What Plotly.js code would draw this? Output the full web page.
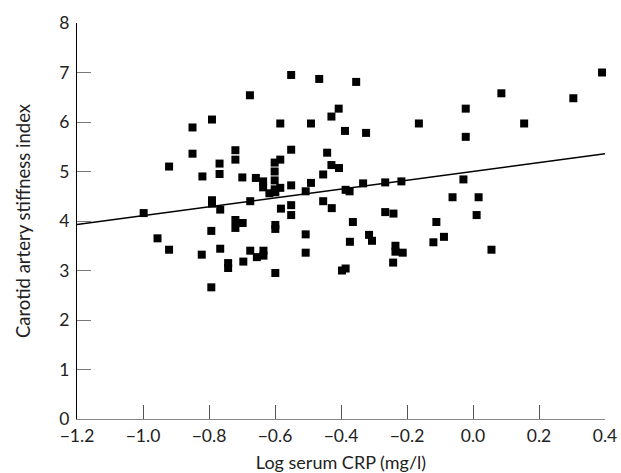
<!DOCTYPE html>
<html>
<head>
<meta charset="utf-8">
<script src="https://cdn.plot.ly/plotly-3.0.1.min.js"></script>
<style>html,body{margin:0;padding:0;background:#fff;}#chart{width:621px;height:473px;}</style>
</head>
<body>
<div id="chart"></div>
<script>
// Log serum CRP (mg/l)
var logCRP = [
  -0.998, -0.956, -0.921, -0.921, -0.850, -0.850, -0.822, -0.820, -0.791, -0.791,
  -0.791, -0.793, -0.793, -0.768, -0.768, -0.766, -0.766, -0.742, -0.742, -0.720,
  -0.720, -0.720, -0.720, -0.699, -0.698, -0.696, -0.676, -0.675, -0.675, -0.658,
  -0.655, -0.636, -0.636, -0.635, -0.635, -0.617, -0.601, -0.601, -0.601, -0.601,
  -0.599, -0.599, -0.599, -0.599, -0.584, -0.584, -0.584, -0.582, -0.551, -0.551,
  -0.551, -0.551, -0.551, -0.507, -0.507, -0.507, -0.491, -0.491, -0.466, -0.454,
  -0.454, -0.442, -0.429, -0.429, -0.428, -0.407, -0.406, -0.397, -0.388, -0.386,
  -0.386, -0.374, -0.373, -0.364, -0.354, -0.333, -0.324, -0.315, -0.306, -0.266,
  -0.266, -0.242, -0.241, -0.235, -0.235, -0.217, -0.213, -0.164, -0.120, -0.111,
  -0.088, -0.062, -0.029, -0.022, -0.022, 0.011, 0.017, 0.056, 0.086, 0.155,
  0.304, 0.391
];
// Carotid artery stiffness index
var stiffness = [
  4.16, 3.65, 3.42, 5.10, 5.89, 5.36, 3.32, 4.90, 6.05, 4.42,
  4.35, 3.80, 2.66, 5.16, 4.95, 4.23, 3.44, 3.15, 3.05, 5.43,
  5.24, 4.02, 3.86, 4.88, 3.96, 3.18, 6.54, 4.40, 3.40, 4.87,
  3.27, 4.80, 4.68, 3.40, 3.30, 4.56, 5.18, 5.00, 4.82, 4.64,
  4.58, 3.92, 3.84, 2.95, 5.97, 5.24, 4.67, 4.25, 6.95, 5.44,
  4.72, 4.32, 4.12, 4.60, 3.73, 3.36, 5.97, 4.77, 6.87, 4.94,
  4.40, 5.38, 6.11, 5.13, 4.26, 6.27, 5.07, 3.00, 5.82, 4.63,
  3.04, 4.60, 3.58, 3.98, 6.81, 4.76, 5.78, 3.72, 3.60, 4.78,
  4.18, 3.16, 4.15, 3.50, 3.38, 4.80, 3.36, 5.97, 3.57, 3.98,
  3.68, 4.48, 4.84, 6.27, 5.70, 4.12, 4.48, 3.42, 6.58, 5.97,
  6.48, 7.00
];
// Regression line end points
var fitX = [-1.2, 0.4];
var fitY = [3.93, 5.36];

var xTicks = [-1.2, -1.0, -0.8, -0.6, -0.4, -0.2, 0.0, 0.2, 0.4];
var xTickText = ['\u22121.2', '\u22121.0', '\u22120.8', '\u22120.6', '\u22120.4', '\u22120.2', '0.0', '0.2', '0.4'];
var yTicks = [0, 1, 2, 3, 4, 5, 6, 7, 8];

var fontFam = 'Lato, "Open Sans", sans-serif';

var traces = [
  {
    x: logCRP, y: stiffness, type: 'scatter', mode: 'markers',
    marker: {symbol: 'square', size: 8, color: '#000', line: {width: 0}},
    cliponaxis: false, hoverinfo: 'none'
  },
  {
    x: fitX, y: fitY, type: 'scatter', mode: 'lines',
    line: {color: '#000', width: 1.5}, hoverinfo: 'none'
  }
];

var layout = {
  width: 621, height: 473,
  margin: {l: 77, r: 16, t: 19, b: 54},
  paper_bgcolor: '#fff', plot_bgcolor: '#fff',
  showlegend: false,
  font: {family: fontFam, size: 17, color: '#222'},
  xaxis: {
    range: [-1.2, 0.4], tickvals: xTicks, ticktext: xTickText,
    ticks: 'inside', ticklen: 14, tickwidth: 1, tickcolor: '#555',
    showline: true, linecolor: '#888', linewidth: 1.2,
    showgrid: false, zeroline: false,
    ticklabelstandoff: 1, automargin: false,
    tickfont: {family: fontFam, size: 17.5, color: '#222'},
    title: {text: 'Log serum CRP (mg/l)', font: {family: fontFam, size: 18, color: '#222'}}
  },
  yaxis: {
    range: [0, 8], tickvals: yTicks,
    ticks: 'inside', ticklen: 14, tickwidth: 1, tickcolor: '#777',
    showline: true, linecolor: '#000', linewidth: 1.2,
    showgrid: false, zeroline: false, automargin: true,
    ticklabelstandoff: 3,
    tickfont: {family: fontFam, size: 17.5, color: '#222'},
    title: {text: 'Carotid artery stiffness index', font: {family: fontFam, size: 18.5, color: '#222'}, standoff: 23}
  }
};

Plotly.newPlot('chart', traces, layout, {staticPlot: true, displayModeBar: false});
</script>
</body>
</html>
